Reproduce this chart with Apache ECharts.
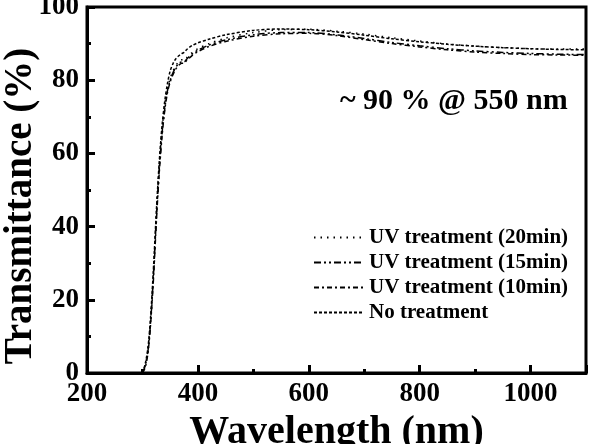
<!DOCTYPE html>
<html>
<head>
<meta charset="utf-8">
<script src="https://cdn.jsdelivr.net/npm/echarts@6/dist/echarts.min.js"></script>
<style>
  html, body { margin: 0; padding: 0; background: #fff; }
  #chart { width: 593px; height: 444px; }
</style>
</head>
<body>
<div id="chart"></div>
<script>
  // wavelength (nm)
  var wavelengths = [300, 305, 310, 315, 320, 325, 330, 335, 340, 345, 350, 355, 360, 365, 370, 375, 380, 390,
    400, 420, 450, 500, 550, 600, 650, 700, 750, 800, 850, 900, 950, 1000, 1050, 1100];

  // transmittance (%)
  var uv20 = [0, 2, 6.5, 15, 28, 43, 56, 66, 73, 77.5, 80.5, 82.5, 84, 85, 85.6, 85.4, 86.2, 87.6,
    88.6, 90.0, 91.5, 93.0, 93.8, 93.9, 93.4, 92.6, 91.6, 90.7, 89.9, 89.3, 88.9, 88.6, 88.5, 88.5];
  var uv15 = [0, 2, 6, 14.5, 27, 42, 55, 65, 72, 77, 80, 82, 83.5, 84.5, 85.0, 85.0, 85.8, 87.2,
    88.2, 89.6, 91.0, 92.4, 93.0, 93.0, 92.4, 91.4, 90.3, 89.4, 88.6, 88.0, 87.6, 87.3, 87.1, 87.0];
  var uv10 = [0, 1.5, 5.5, 14, 26, 41, 54, 64, 71.5, 76.5, 79.5, 81.5, 83, 84, 84.6, 84.7, 85.4, 86.8,
    87.8, 89.2, 90.6, 92.0, 92.7, 92.8, 92.2, 91.1, 90.0, 89.1, 88.3, 87.7, 87.3, 87.0, 86.9, 86.8];
  var noTreat = [0, 2.5, 7, 16, 29, 44, 57, 67, 74, 79, 82.5, 84.5, 85.8, 86.6, 87.2, 87.6, 88.4, 89.5,
    90.2, 91.2, 92.4, 93.6, 94.0, 93.8, 93.2, 92.3, 91.3, 90.5, 89.8, 89.3, 88.9, 88.6, 88.4, 88.3];

  var seriesNames = ['UV treatment (20min)', 'UV treatment (15min)', 'UV treatment (10min)', 'No treatment'];
  var seriesValues = [uv20, uv15, uv10, noTreat];
  var dashes = [[1.5, 5], [7, 3, 2, 3, 2, 3], [5, 3, 2, 3], [3, 2]];

  var serif = '"Liberation Serif", "DejaVu Serif", serif';

  function pairs(values) {
    return wavelengths.map(function (w, i) { return [w, values[i]]; });
  }

  var chart = echarts.init(document.getElementById('chart'));
  chart.setOption({
    animation: false,
    backgroundColor: '#fff',
    grid: {
      left: 87, right: 7, top: 7, bottom: 71,
      outerBoundsMode: 'none',
      show: true, borderColor: '#000', borderWidth: 3
    },
    legend: {
      orient: 'vertical',
      left: 308,
      top: 222,
      itemWidth: 50,
      itemHeight: 14,
      itemGap: 4,
      data: seriesNames,
      itemStyle: { opacity: 0 },
      textStyle: { fontFamily: serif, fontWeight: 'bold', fontSize: 21, color: '#000' }
    },
    xAxis: {
      type: 'value',
      min: 200, max: 1100, interval: 200,
      name: 'Wavelength (nm)',
      nameLocation: 'middle',
      nameGap: 31,
      nameTextStyle: { fontFamily: serif, fontWeight: 'bold', fontSize: 40, color: '#000' },
      axisLine: { show: true, lineStyle: { color: '#000', width: 3 } },
      axisTick: { inside: true, length: 8, lineStyle: { width: 3, color: '#000' } },
      minorTick: { show: true, splitNumber: 2, length: 4, lineStyle: { width: 3, color: '#000' } },
      splitLine: { show: false },
      axisLabel: {
        margin: 8, fontFamily: serif, fontWeight: 'bold', fontSize: 27, color: '#000',
        showMaxLabel: false,
        formatter: function (v) { return String(v); }
      }
    },
    yAxis: {
      type: 'value',
      min: 0, max: 100, interval: 20,
      axisLine: { show: true, lineStyle: { color: '#000', width: 3 } },
      axisTick: { inside: true, length: 8, lineStyle: { width: 3, color: '#000' } },
      minorTick: { show: true, splitNumber: 2, length: 4, lineStyle: { width: 3, color: '#000' } },
      splitLine: { show: false },
      axisLabel: { margin: 8, fontFamily: serif, fontWeight: 'bold', fontSize: 27, color: '#000' }
    },
    graphic: [{
      type: 'text',
      x: 21, y: 206,
      rotation: Math.PI / 2,
      style: {
        text: 'Transmittance (%)',
        fontFamily: serif, fontWeight: 'bold', fontSize: 39, fill: '#000',
        textAlign: 'center', textVerticalAlign: 'middle'
      }
    }, {
      type: 'text',
      x: 340, y: 101,
      style: {
        text: '~ 90 % @ 550 nm',
        fontFamily: serif, fontWeight: 'bold', fontSize: 30, fill: '#000',
        textAlign: 'left', textVerticalAlign: 'middle'
      }
    }],
    series: seriesNames.map(function (name, i) {
      return {
        name: name,
        type: 'line',
        data: pairs(seriesValues[i]),
        smooth: 0.3,
        symbol: 'none',
        lineStyle: { color: '#000', width: 1.5, type: dashes[i] },
        itemStyle: { color: '#000' }
      };
    })
  });
</script>
</body>
</html>
